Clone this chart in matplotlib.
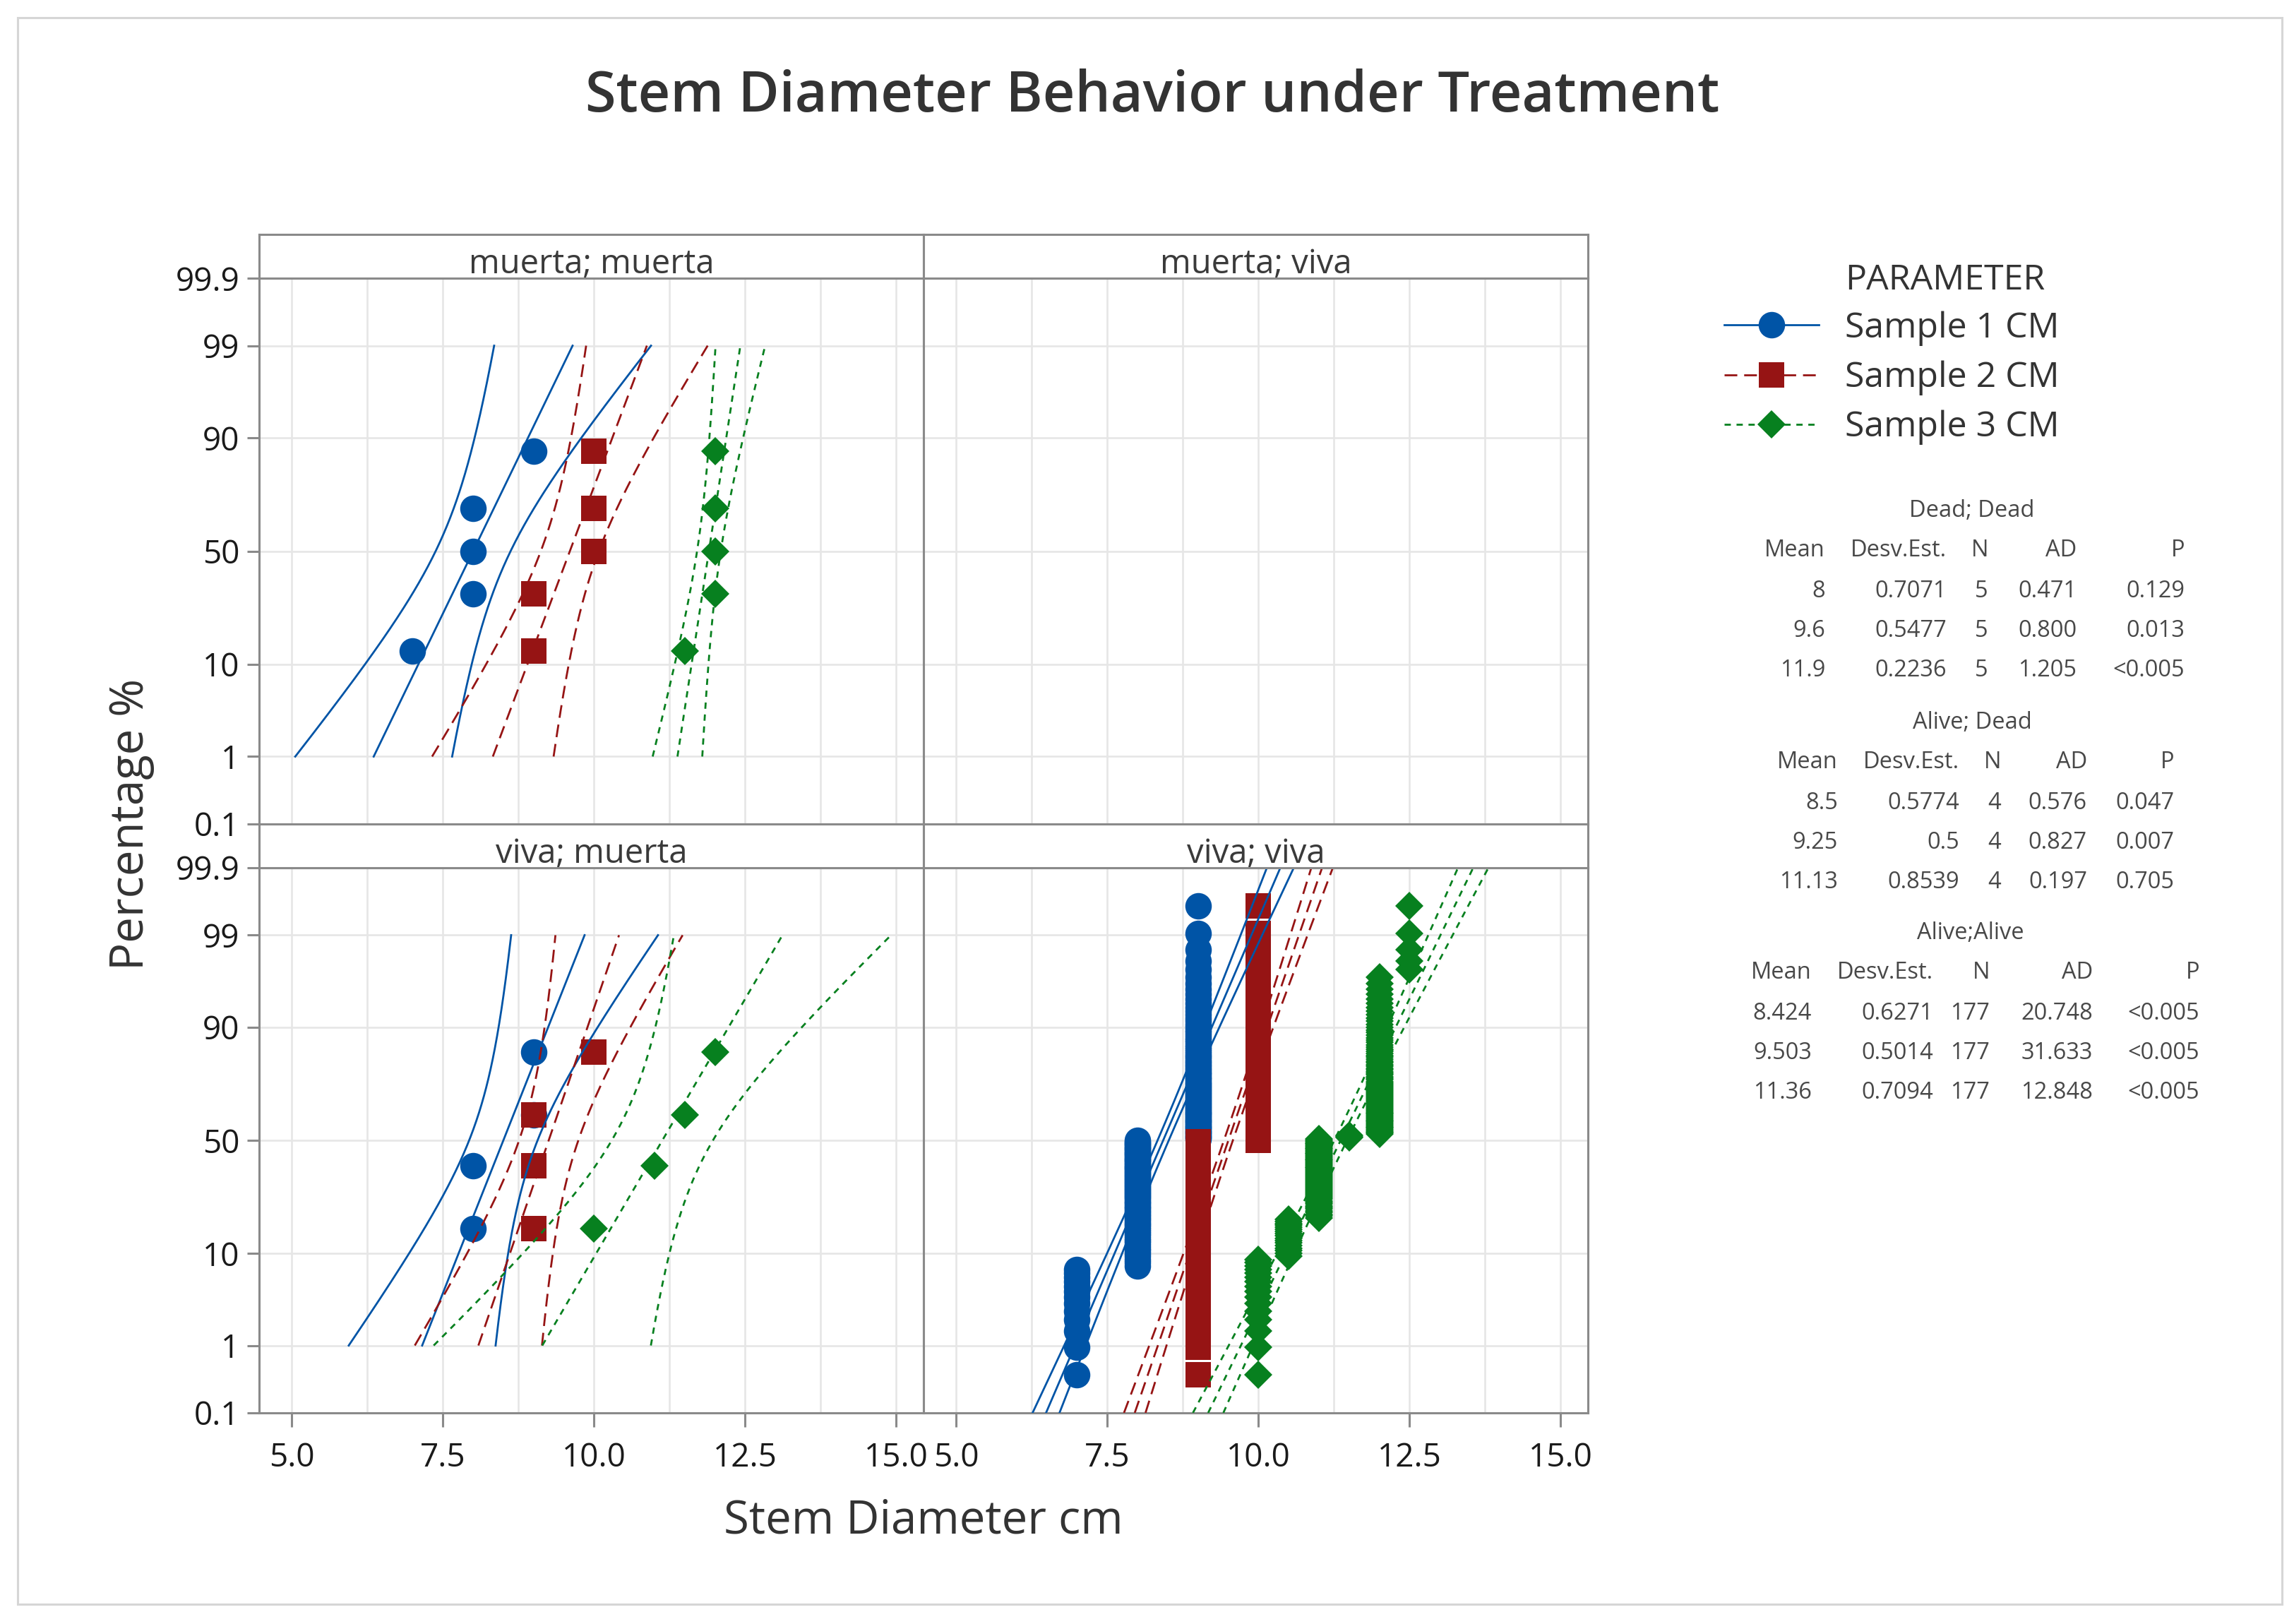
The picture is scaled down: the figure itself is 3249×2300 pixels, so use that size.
import numpy as np
import matplotlib
matplotlib.use('Agg')
import matplotlib.pyplot as plt
from matplotlib.lines import Line2D
from matplotlib.patches import Rectangle
from matplotlib.ticker import FixedLocator, NullLocator
from statistics import NormalDist

plt.rcParams['font.family'] = ['Open Sans', 'DejaVu Sans']

# ---- data ----
title = 'Stem Diameter Behavior under Treatment'
panel_titles = ['muerta; muerta', 'muerta; viva', 'viva; muerta', 'viva; viva']
sample_labels = ['Sample 1 CM', 'Sample 2 CM', 'Sample 3 CM']

# individual stem diameters (cm), one list per sample
dead_dead_values = [[7, 8, 8, 8, 9], [9, 9, 10, 10, 10], [11.5, 12, 12, 12, 12]]
alive_dead_values = [[8, 8, 9, 9], [9, 9, 9, 10], [10, 11, 11.5, 12]]
# alive;alive has 177 stems per sample -> diameter levels and how many stems at each
alive_alive_levels = [[7, 8, 9], [9, 10], [10, 10.5, 11, 11.5, 12, 12.5]]
alive_alive_counts = [[13, 76, 88], [88, 89], [16, 17, 57, 3, 79, 5]]

# summary table (also used for the fitted lines)
table_titles = ['Dead; Dead', 'Alive; Dead', 'Alive;Alive']
dd_mean = [8, 9.6, 11.9]
dd_sd = [0.7071, 0.5477, 0.2236]
dd_n = [5, 5, 5]
dd_ad = ['0.471', '0.800', '1.205']
dd_p = ['0.129', '0.013', '<0.005']
ad_mean = [8.5, 9.25, 11.13]
ad_sd = [0.5774, 0.5, 0.8539]
ad_n = [4, 4, 4]
ad_ad = ['0.576', '0.827', '0.197']
ad_p = ['0.047', '0.007', '0.705']
aa_mean = [8.424, 9.503, 11.36]
aa_sd = [0.6271, 0.5014, 0.7094]
aa_n = [177, 177, 177]
aa_ad = ['20.748', '31.633', '12.848']
aa_p = ['<0.005', '<0.005', '<0.005']
table_header = ['Mean', 'Desv.Est.', 'N', 'AD', 'P']

y_ticks = [0.1, 1, 10, 50, 90, 99, 99.9]
y_ticklabels = ['0.1', '1', '10', '50', '90', '99', '99.9']
x_ticks = [5, 7.5, 10, 12.5, 15]
x_ticklabels = ['5.0', '7.5', '10.0', '12.5', '15.0']

# ---- styles ----
BLUE, RED, GREEN = '#0054A6', '#961414', '#07801F'
SPINE = '#8a8a8a'
GRID = '#e6e6e6'
styles = [
    dict(color=BLUE, ls='-', marker='o', ms=27),
    dict(color=RED, ls=(0, (6.5, 3.5)), marker='s', ms=25.5),
    dict(color=GREEN, ls=(0, (3.2, 2.9)), marker='D', ms=20.5),
]

W, H = 3249, 2300
fig = plt.figure(figsize=(W / 100, H / 100), dpi=100)


def fx(px):
    return px / W


def fy(py):
    return 1 - py / H


nd = NormalDist()


def pct_to_z(p):
    p = np.clip(np.asarray(p, dtype=float), 1e-7, 100 - 1e-7)
    return np.vectorize(lambda v: nd.inv_cdf(v / 100.0), otypes=[float])(p)


def z_to_pct(z):
    return np.vectorize(lambda v: 100.0 * nd.cdf(v), otypes=[float])(np.asarray(z, dtype=float))


# outer frame
fig.add_artist(Rectangle((fx(25), fy(2272)), (3232 - 25) / W, (2272 - 25) / H,
                         transform=fig.transFigure, fill=False, ec='#d6d6d6', lw=2.2))

aa_values = [np.repeat(lv, ct) for lv, ct in zip(alive_alive_levels, alive_alive_counts)]
panel_values = [dead_dead_values, None, alive_dead_values, aa_values]
panel_fits = [(dd_mean, dd_sd, dd_n), None, (ad_mean, ad_sd, ad_n), (aa_mean, aa_sd, aa_n)]
fit_range = [(1, 99), None, (1, 99), (0.1, 99.9)]

col_x = [367, 1308]
col_w = 941
data_rows = [(394, 1167), (1229, 2001)]
strip_rows = [(332, 394), (1167, 1229)]

for r in range(2):
    for c in range(2):
        k = 2 * r + c
        top, bot = data_rows[r]
        ax = fig.add_axes([fx(col_x[c]), fy(bot), col_w / W, (bot - top) / H])
        ax.set_yscale('function', functions=(pct_to_z, z_to_pct))
        ax.set_ylim(0.1, 99.9)
        ax.set_xlim(4.46, 15.45)
        ax.yaxis.set_major_locator(FixedLocator(y_ticks))
        ax.yaxis.set_minor_locator(NullLocator())
        ax.set_yticklabels(y_ticklabels)
        ax.xaxis.set_major_locator(FixedLocator(x_ticks))
        ax.xaxis.set_minor_locator(FixedLocator([6.25, 8.75, 11.25, 13.75]))
        ax.set_xticklabels(x_ticklabels)
        ax.grid(True, which='both', color=GRID, lw=1.9)
        ax.set_axisbelow(True)
        for sp in ax.spines.values():
            sp.set_color(SPINE)
            sp.set_linewidth(2.2)
        ax.tick_params(axis='both', which='major', color=SPINE, width=2.2,
                       labelsize=33, labelcolor='#1a1a1a')
        ax.tick_params(axis='x', which='minor', length=0)
        ax.tick_params(axis='y', length=12, pad=8, labelleft=(c == 0))
        if c == 1:
            ax.tick_params(axis='y', length=0)
        ax.tick_params(axis='x', length=14.5, pad=15, labelbottom=(r == 1))
        if r == 0:
            ax.tick_params(axis='x', length=0)

        if panel_values[k] is not None:
            means, sds, ns = panel_fits[k]
            lo, hi = fit_range[k]
            z = np.linspace(nd.inv_cdf(lo / 100), nd.inv_cdf(hi / 100), 200)
            pz = z_to_pct(z)
            for i, vals in enumerate(panel_values[k]):
                st = styles[i]
                v = np.sort(np.asarray(vals, dtype=float))
                n = len(v)
                pos = (np.arange(1, n + 1) - 0.3) / (n + 0.4) * 100
                ax.plot(v, pos, ls='none', marker=st['marker'], ms=st['ms'],
                        color=st['color'], mew=0, zorder=3)
            for i in range(3):
                st = styles[i]
                mu, sd, n = means[i], sds[i], ns[i]
                fit = mu + z * sd
                hw = 1.96 * sd * np.sqrt(1 / n + z ** 2 / (2 * (n - 1)))
                for xs in (fit - hw, fit, fit + hw):
                    ax.plot(xs, pz, color=st['color'], ls=st['ls'], lw=2, zorder=4)

        s_top, s_bot = strip_rows[r]
        sx = fig.add_axes([fx(col_x[c]), fy(s_bot), col_w / W, (s_bot - s_top) / H])
        sx.set_xticks([])
        sx.set_yticks([])
        for sp in sx.spines.values():
            sp.set_color(SPINE)
            sp.set_linewidth(2.2)
        sx.text(0.5, 0.12, panel_titles[k], ha='center', va='baseline',
                fontsize=34, color='#3a3a3a', transform=sx.transAxes)

# titles and axis labels
fig.text(fx(1632), fy(137), title, ha='center', va='center', fontsize=57,
         fontweight='semibold', color='#333333')
fig.text(fx(186), fy(1167), 'Percentage %', rotation=90, ha='center', va='center',
         fontsize=47, color='#333333')
fig.text(fx(1308), fy(2155), 'Stem Diameter cm', ha='center', va='center',
         fontsize=47, color='#333333')

# legend
fig.text(fx(2613), fy(397), 'PARAMETER', ha='left', va='center', fontsize=36, color='#333333')
handles = [Line2D([], [], color=st['color'], ls=st['ls'], lw=2, marker=st['marker'],
                  ms=st['ms'], mew=0) for st in styles]
fig.legend(handles, sample_labels, loc='upper left', bbox_to_anchor=(fx(2442), fy(440)),
           frameon=False, fontsize=36, handlelength=2.68, handletextpad=0.74,
           labelspacing=0.42, borderpad=0, borderaxespad=0, labelcolor='#333333')

# summary table
blocks = [
    (dd_mean, dd_sd, dd_n, dd_ad, dd_p),
    (ad_mean, ad_sd, ad_n, ad_ad, ad_p),
    (aa_mean, aa_sd, aa_n, aa_ad, aa_p),
]
block_cols = [[2585, 2757, 2816, 2941, 3094],
              [2603, 2775, 2834, 2956, 3079],
              [2566, 2738, 2818, 2964, 3115]]
block_title_x = [2793, 2793, 2791]
block_y0 = [723, 1024, 1322]
row_dy = [0, 56, 114, 170, 226]
TXT = '#484848'
for b, (mean, sd, nn, adv, pv) in enumerate(blocks):
    y0 = block_y0[b]
    cols = block_cols[b]
    fig.text(fx(block_title_x[b]), fy(y0), table_titles[b], ha='center', va='center',
             fontsize=23.5, color=TXT)
    for j, h in enumerate(table_header):
        fig.text(fx(cols[j]), fy(y0 + row_dy[1]), h, ha='right', va='center',
                 fontsize=23.5, color=TXT)
    for i in range(3):
        row = ['{:g}'.format(mean[i]), '{:g}'.format(sd[i]), str(nn[i]), adv[i], pv[i]]
        for j, s in enumerate(row):
            fig.text(fx(cols[j]), fy(y0 + row_dy[2 + i]), s, ha='right', va='center',
                     fontsize=23.5, color=TXT)

fig.savefig('out.png', dpi=100, facecolor='white')
